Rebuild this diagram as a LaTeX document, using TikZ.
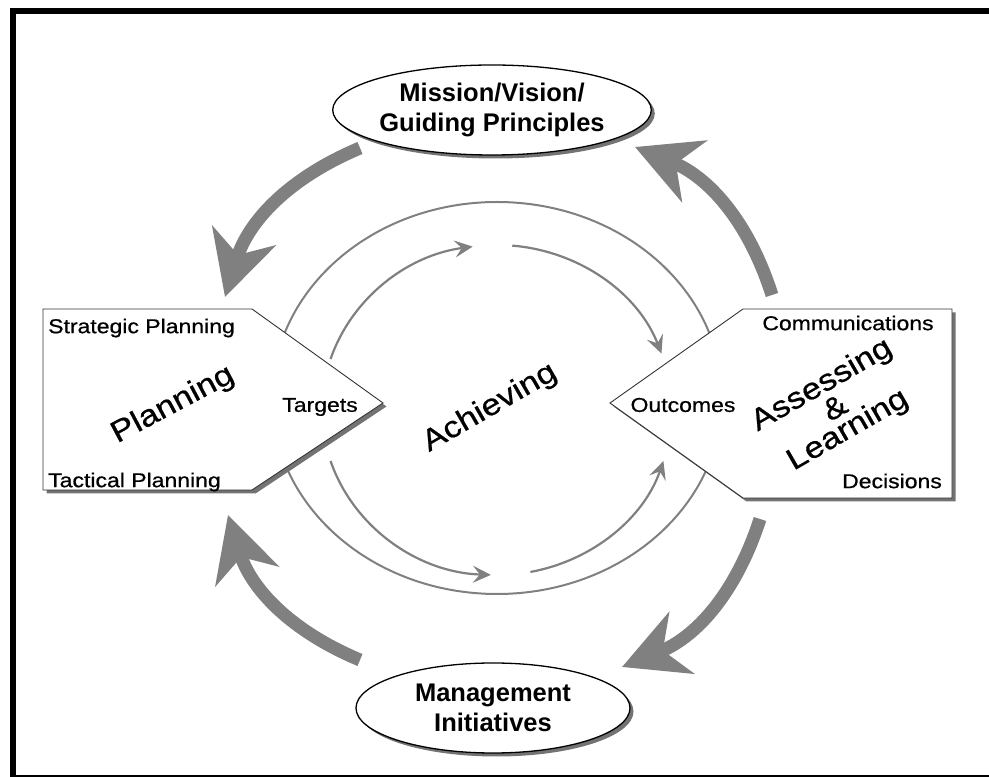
\documentclass[tikz,border=0pt]{standalone}
\usepackage{fontspec}
\setmainfont{Liberation Sans}
\newfontfamily\widefont[FakeStretch=1.15, FakeBold=0.7]{Liberation Sans}
\usetikzlibrary{arrows.meta,shapes.geometric,shadows,calc}

\definecolor{arrowgray}{HTML}{808080}

\tikzset{
  bigarrow/.style={draw=arrowgray, line width=13pt, -{Stealth[length=64pt,width=66pt,inset=20pt]}},
  thinarrow/.style={draw=arrowgray, line width=2.2pt, -{Stealth[length=18pt,width=17pt,inset=7pt]}},
  flatshadow/.style={drop shadow={shadow xshift=3.5pt, shadow yshift=-3.5pt, fill=black!55, opacity=1}},
  oval/.style={ellipse, draw, line width=1.3pt, fill=white, flatshadow,
    minimum width=274pt, minimum height=90pt, inner sep=0pt, align=center,
    font=\fontsize{25.5}{30}\selectfont\bfseries},
  pent/.style={draw=black!80, line width=0.9pt, fill=white, flatshadow},
  small/.style={font=\widefont\fontsize{20}{24}\selectfont, inner sep=0pt},
  big/.style={font=\widefont\fontsize{30}{24}\selectfont, inner sep=0pt, align=center}
}

\begin{document}
\begin{tikzpicture}[x=1pt, y=1pt]
\useasboundingbox (0,0) rectangle (989,777);

\draw[line width=6pt] (10,766) -- (989,766);
\draw[line width=6pt] (13,769) -- (13,0);
\draw[line width=2pt] (10,1) -- (989,1);

\coordinate (octr) at (497,379);
\coordinate (ictr) at (497,367);
\draw[arrowgray, line width=2pt] (octr) ellipse [x radius=225pt, y radius=196pt];

\coordinate (i1) at ($(ictr)+(162:175pt and 165pt)$);
\coordinate (i2) at ($(ictr)+(85:175pt and 165pt)$);
\coordinate (i3) at ($(ictr)+(198:175pt and 165pt)$);
\coordinate (i4) at ($(ictr)+(281:175pt and 165pt)$);
\draw[thinarrow] (i1) arc [start angle=162, end angle=98, x radius=175pt, y radius=165pt];
\draw[thinarrow] (i2) arc [start angle=85, end angle=20, x radius=175pt, y radius=165pt];
\draw[thinarrow] (i3) arc [start angle=198, end angle=268, x radius=175pt, y radius=165pt];
\draw[thinarrow] (i4) arc [start angle=281, end angle=342, x radius=175pt, y radius=165pt];

\coordinate (a1) at (360,629); \coordinate (a2) at (225,480);
\coordinate (b1) at (772,482); \coordinate (b2) at (635,630);
\coordinate (c1) at (760,258); \coordinate (c2) at (622,110);
\coordinate (d1) at (360,117); \coordinate (d2) at (228,262);
\draw[bigarrow] (a1) to[bend right=25] (a2);
\draw[bigarrow] (b1) to[bend right=25] (b2);
\draw[bigarrow] (c1) to[bend left=25] (c2);
\draw[bigarrow] (d1) to[bend left=25] (d2);

\draw[pent] (43,468) -- (252,468) -- (383,374) -- (252,287) -- (43,287) -- cycle;
\draw[pent] (610,374) -- (743,468) -- (952,468) -- (952,279) -- (743,279) -- cycle;

\node[oval] (mission) at (492,667) {Mission/Vision/\\Guiding Principles};
\node[oval] (mgmt) at (493,69) {Management\\Initiatives};

\node[small, anchor=west] (strat) at (48,449) {Strategic Planning};
\node[small, anchor=west] (tact) at (48,295) {Tactical Planning};
\node[small] (targets) at (320,370) {Targets};
\node[big, rotate=28] (plan) at (173,372) {Planning};
\node[small] (comm) at (848,454) {Communications};
\node[small] (outc) at (683,372) {Outcomes};
\node[small] (dec) at (892,296) {Decisions};
\node[big, rotate=30] (assess) at (835,369) {Assessing\\\&\\Learning};
\node[big, rotate=30] (achieve) at (490,369) {Achieving};
\end{tikzpicture}
\end{document}
